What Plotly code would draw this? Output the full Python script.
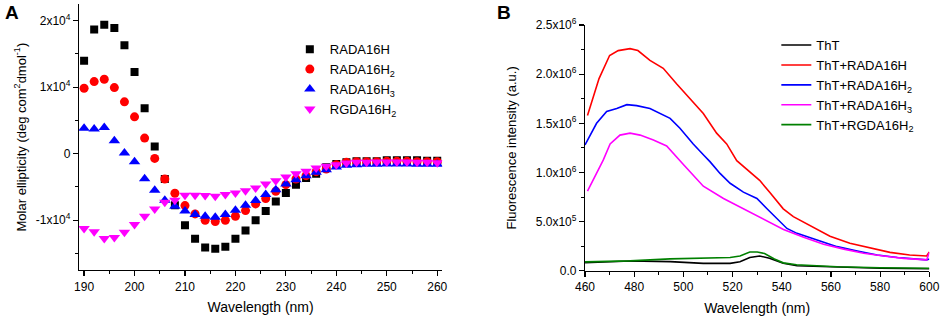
import plotly.graph_objects as go

# ---------------- Panel A data (CD spectra) ----------------
wl_cd = list(range(190, 262, 2))
rada16h = [1.40, 1.87, 1.94, 1.89, 1.63, 1.23, 0.685, 0.11, -0.38, -0.775,
           -1.075, -1.28, -1.41, -1.43, -1.40, -1.28, -1.155, -1.0, -0.86, -0.72,
           -0.59, -0.465, -0.365, -0.30, -0.205, -0.155, -0.13, -0.115, -0.115, -0.115,
           -0.10, -0.10, -0.10, -0.10, -0.105, -0.105]
rada16h2 = [0.985, 1.085, 1.12, 0.995, 0.78, 0.555, 0.235, -0.07, -0.38, -0.595,
            -0.78, -0.905, -1.0, -1.02, -1.0, -0.94, -0.855, -0.755, -0.675, -0.565,
            -0.465, -0.38, -0.33, -0.27, -0.23, -0.165, -0.13, -0.12, -0.12, -0.12,
            -0.115, -0.115, -0.115, -0.12, -0.12, -0.12]
rada16h3 = [0.385, 0.37, 0.395, 0.195, 0.01, -0.12, -0.375, -0.55, -0.70, -0.79,
            -0.86, -0.915, -0.94, -0.955, -0.915, -0.85, -0.775, -0.705, -0.615, -0.54,
            -0.455, -0.39, -0.33, -0.28, -0.24, -0.20, -0.175, -0.165, -0.16, -0.16,
            -0.155, -0.155, -0.155, -0.16, -0.16, -0.16]
rgda16h2 = [-1.125, -1.175, -1.275, -1.26, -1.18, -1.065, -0.94, -0.83, -0.73, -0.70,
            -0.625, -0.625, -0.63, -0.64, -0.615, -0.59, -0.555, -0.515, -0.455, -0.405,
            -0.35, -0.30, -0.265, -0.215, -0.19, -0.165, -0.14, -0.13, -0.13, -0.125,
            -0.125, -0.125, -0.125, -0.13, -0.13, -0.135]
cd_scale = 1e4

cd_tickvals = [-1e4, 0, 1e4, 2e4]
cd_ticktext = ["-1x10<sup>4</sup>", "0", "1x10<sup>4</sup>", "2x10<sup>4</sup>"]

# ---------------- Panel B data (ThT fluorescence) ----------------
tht_x = [460, 478.3, 494.6, 508.1, 519, 523, 527, 531, 535, 540.6, 546.2, 562.5, 580, 600]
tht_y = [0.081, 0.099, 0.092, 0.075, 0.075, 0.092, 0.135, 0.15, 0.126, 0.075, 0.05, 0.035, 0.025, 0.02]

rgda_x = [460, 478.3, 494.6, 508, 519, 523, 527, 530, 533, 537, 540.6, 546, 562.5, 580, 600]
rgda_y = [0.09, 0.10, 0.12, 0.125, 0.135, 0.15, 0.19, 0.19, 0.175, 0.12, 0.08, 0.06, 0.04, 0.03, 0.025]

r1_x = [461, 465.7, 470, 473.5, 478.3, 481.5, 486.4, 491.8, 497.3, 502.7, 508.1, 513.5, 517.6,
        521.7, 527, 531, 535, 540.6, 544.7, 551.5, 559.6, 567.7, 575.9, 584, 592, 598.9, 600]
r1_y = [1.58, 1.955, 2.19, 2.24, 2.26, 2.24, 2.14, 2.06, 1.90, 1.75, 1.60, 1.40, 1.29,
        1.12, 1.01, 0.92, 0.80, 0.63, 0.55, 0.455, 0.35, 0.28, 0.23, 0.187, 0.16, 0.15, 0.19]

r2_x = [460, 464.7, 468.8, 472.9, 477, 481, 486.4, 490.5, 494.6, 498.6, 504, 508.5, 510.8,
        514.9, 519, 524.4, 529.9, 534, 538, 542.1, 546.2, 554.4, 562.5, 570.7, 578.8, 587, 598.9, 600]
r2_y = [1.28, 1.50, 1.62, 1.65, 1.69, 1.68, 1.65, 1.60, 1.55, 1.45, 1.29, 1.17, 1.11,
        0.99, 0.89, 0.80, 0.735, 0.63, 0.53, 0.43, 0.38, 0.31, 0.245, 0.20, 0.16, 0.135, 0.11, 0.12]

r3_x = [461, 464, 467.4, 470.2, 474.2, 478.3, 482.4, 487.8, 493.2, 500, 508.1, 516.3, 524.4,
        532.6, 540.7, 548.9, 557, 565.2, 573.3, 581.4, 589.6, 598.9, 600]
r3_y = [0.81, 0.955, 1.125, 1.29, 1.38, 1.40, 1.38, 1.33, 1.27, 1.08, 0.86, 0.735, 0.63,
        0.53, 0.42, 0.34, 0.27, 0.22, 0.177, 0.15, 0.126, 0.11, 0.185]
fl_scale = 1e6

fl_tickvals = [0, 0.5e6, 1.0e6, 1.5e6, 2.0e6, 2.5e6]
fl_ticktext = ["0.0", "5.0x10<sup>5</sup>", "1.0x10<sup>6</sup>", "1.5x10<sup>6</sup>",
               "2.0x10<sup>6</sup>", "2.5x10<sup>6</sup>"]

FONT = "Liberation Sans, Arial, sans-serif"

fig = go.Figure()

cd_series = [
    ("RADA16H", rada16h, "square", "#000000", 8),
    ("RADA16H<sub>2</sub>", rada16h2, "circle", "#ff0000", 9),
    ("RADA16H<sub>3</sub>", rada16h3, "triangle-up", "#0000ff", 10),
    ("RGDA16H<sub>2</sub>", rgda16h2, "triangle-down", "#ff00ff", 10),
]
for name, vals, sym, col, sz in cd_series:
    fig.add_trace(go.Scatter(
        x=wl_cd, y=[v * cd_scale for v in vals], mode="markers", name=name,
        marker=dict(symbol=sym, color=col, size=sz, line=dict(width=0)),
        xaxis="x", yaxis="y", legend="legend"))

fl_series = [
    ("ThT", tht_x, tht_y, "#000000"),
    ("ThT+RADA16H", r1_x, r1_y, "#ff0000"),
    ("ThT+RADA16H<sub>2</sub>", r2_x, r2_y, "#0000ff"),
    ("ThT+RADA16H<sub>3</sub>", r3_x, r3_y, "#ff00ff"),
    ("ThT+RGDA16H<sub>2</sub>", rgda_x, rgda_y, "#008000"),
]
for name, xs, ys, col in fl_series:
    fig.add_trace(go.Scatter(
        x=xs, y=[v * fl_scale for v in ys], mode="lines", name=name,
        line=dict(color=col, width=1.6),
        xaxis="x2", yaxis="y2", legend="legend2"))

axis_common = dict(showline=True, linecolor="#000000", linewidth=1.2, showgrid=False,
                   zeroline=False, ticks="outside", ticklen=5, tickwidth=1.2,
                   tickcolor="#000000", tickfont=dict(family=FONT, size=12, color="#000000"),
                   mirror=False, automargin=False)


def minor(**kw):
    return dict(ticks="outside", ticklen=3, tickwidth=1, tickcolor="#000000", **kw)


fig.update_layout(
    width=941, height=317,
    margin=dict(l=0, r=0, t=0, b=0, pad=0, autoexpand=False),
    paper_bgcolor="white", plot_bgcolor="white",
    font=dict(family=FONT, size=12, color="#000000"),
    xaxis=dict(domain=[0.084, 0.470], range=[189, 261], anchor="y",
               tickvals=list(range(190, 261, 10)),
               title=dict(text="Wavelength (nm)", font=dict(size=14), standoff=9),
               minor=minor(dtick=5), **axis_common),
    yaxis=dict(domain=[0.148, 0.987], range=[-1.75e4, 2.25e4], anchor="x",
               tickvals=cd_tickvals, ticktext=cd_ticktext,
               title=dict(text="Molar ellipticity (deg com<sup>2</sup>dmol<sup>-1</sup>)",
                          font=dict(size=13), standoff=6),
               minor=minor(tickvals=[-1.5e4, -0.5e4, 0.5e4, 1.5e4]), **axis_common),
    xaxis2=dict(domain=[0.6217, 0.9876], range=[460, 600], anchor="y2",
                tickvals=list(range(460, 601, 20)),
                title=dict(text="Wavelength (nm)", font=dict(size=14), standoff=9),
                minor=minor(dtick=10), **axis_common),
    yaxis2=dict(domain=[0.146, 0.921], range=[0, 2.5e6], anchor="x2",
                tickvals=fl_tickvals, ticktext=fl_ticktext,
                title=dict(text="Fluorescence intensity (a.u.)", font=dict(size=13), standoff=16),
                minor=minor(tickvals=[0.25e6, 0.75e6, 1.25e6, 1.75e6, 2.25e6]), **axis_common),
    legend=dict(x=0.308, y=0.892, xanchor="left", yanchor="top", bgcolor="rgba(0,0,0,0)",
                font=dict(family=FONT, size=13), tracegroupgap=0, itemwidth=30),
    legend2=dict(x=0.825, y=0.905, xanchor="left", yanchor="top", bgcolor="rgba(0,0,0,0)",
                 font=dict(family=FONT, size=13), tracegroupgap=0, itemwidth=30),
    annotations=[
        dict(text="<b>A</b>", x=0.003, y=1.0, xref="paper", yref="paper",
             xanchor="left", yanchor="top", showarrow=False,
             font=dict(family=FONT, size=19, color="#000000")),
        dict(text="<b>B</b>", x=0.526, y=1.0, xref="paper", yref="paper",
             xanchor="left", yanchor="top", showarrow=False,
             font=dict(family=FONT, size=19, color="#000000")),
    ],
)

fig.write_html("out.html",
               config={"displayModeBar": False, "staticPlot": True},
               post_script="document.body.style.margin='0';document.body.style.overflow='hidden';")
